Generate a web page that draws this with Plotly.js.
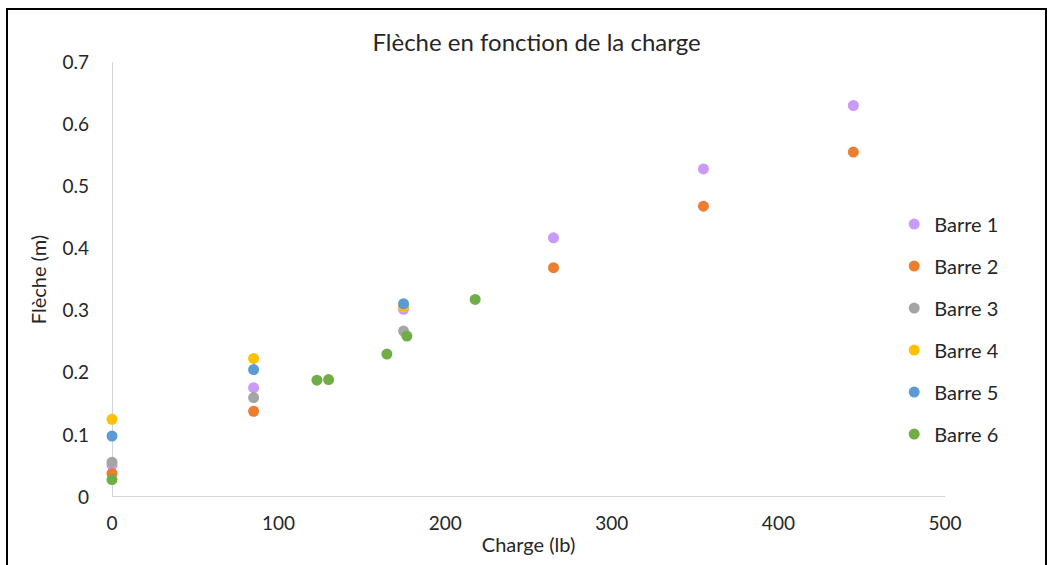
<!DOCTYPE html>
<html>
<head>
<meta charset="utf-8">
<script src="https://cdn.plot.ly/plotly-3.0.1.min.js"></script>
<style>
html,body{margin:0;padding:0;background:#fff;}
#frame{position:absolute;left:6px;top:8px;width:1041px;height:600px;border:2px solid #000;box-sizing:border-box;pointer-events:none;z-index:10;}
#chart{position:absolute;left:0;top:0;width:1050px;height:565px;}
</style>
</head>
<body>
<div id="chart"></div>
<div id="frame"></div>
<script>
const seriesNames = ["Barre 1","Barre 2","Barre 3","Barre 4","Barre 5","Barre 6"];
const seriesColors = ["#C99AF7","#ED7D31","#A5A5A5","#FFC000","#5B9BD5","#70AD47"];

const barre1X = [0, 85, 175, 265, 355, 445];
const barre1Y = [0.051, 0.176, 0.302, 0.417, 0.528, 0.630];
const barre2X = [0, 85, 265, 355, 445];
const barre2Y = [0.038, 0.138, 0.369, 0.468, 0.555];
const barre3X = [0, 85, 175];
const barre3Y = [0.056, 0.160, 0.267];
const barre4X = [0, 85, 175];
const barre4Y = [0.125, 0.223, 0.306];
const barre5X = [0, 85, 175];
const barre5Y = [0.098, 0.205, 0.311];
const barre6X = [0, 123, 130, 165, 177, 218];
const barre6Y = [0.028, 0.188, 0.189, 0.230, 0.259, 0.318];

const xTicks = [0, 100, 200, 300, 400, 500];
const yTicks = [0, 0.1, 0.2, 0.3, 0.4, 0.5, 0.6, 0.7];
const yTickText = ["0", "0.1", "0.2", "0.3", "0.4", "0.5", "0.6", "0.7"];

const xs = [barre1X, barre2X, barre3X, barre4X, barre5X, barre6X];
const ys = [barre1Y, barre2Y, barre3Y, barre4Y, barre5Y, barre6Y];

const traces = seriesNames.map((n, i) => ({
  type: "scatter",
  mode: "markers",
  name: n,
  legendgroup: "g" + i,
  x: xs[i],
  y: ys[i],
  cliponaxis: false,
  marker: {color: seriesColors[i], size: 11}
}));

const font = "Lato, 'Open Sans', sans-serif";
const txt = "#262626";

const layout = {
  width: 1050,
  height: 565,
  margin: {l: 112, r: 105, t: 62, b: 68},
  paper_bgcolor: "#fff",
  plot_bgcolor: "#fff",
  font: {family: font, color: txt, size: 20},
  showlegend: true,
  title: {text: "Flèche en fonction de la charge", font: {family: font, size: 24, color: txt}, x: 0.511, xanchor: "center", y: 0.925, yanchor: "middle"},
  xaxis: {
    range: [0, 500],
    tickvals: xTicks,
    ticktext: xTicks.map(String),
    showgrid: false,
    zeroline: false,
    showline: false,
    ticks: "",
    ticklabelstandoff: 13,
    tickfont: {family: font, size: 19, color: txt},
    title: {text: "Charge (lb)", font: {family: font, size: 20, color: txt}, standoff: 4}
  },
  yaxis: {
    range: [0, 0.7],
    tickvals: yTicks,
    ticktext: yTickText,
    showgrid: false,
    zeroline: false,
    showline: false,
    ticks: "",
    ticklabelstandoff: 22,
    tickfont: {family: font, size: 19, color: txt},
    title: {text: "Flèche (m)", font: {family: font, size: 20, color: txt}, standoff: 10}
  },
  shapes: [
    {type: "line", xref: "x", yref: "paper", x0: 0, x1: 0, y0: 0, y1: 1, line: {color: "#C8C8C8", width: 1.6}, layer: "below"},
    {type: "line", xref: "paper", yref: "y", x0: 0, x1: 1, y0: 0, y1: 0, line: {color: "#C8C8C8", width: 1.6}, layer: "below"}
  ],
  legend: {
    x: 0.939, xanchor: "left",
    y: 0.386, yanchor: "middle",
    font: {family: font, size: 20, color: txt},
    traceorder: "grouped",
    tracegroupgap: 13,
    itemwidth: 30,
    bgcolor: "rgba(0,0,0,0)"
  }
};

Plotly.newPlot("chart", traces, layout, {displayModeBar: false, staticPlot: true});
</script>
</body>
</html>
